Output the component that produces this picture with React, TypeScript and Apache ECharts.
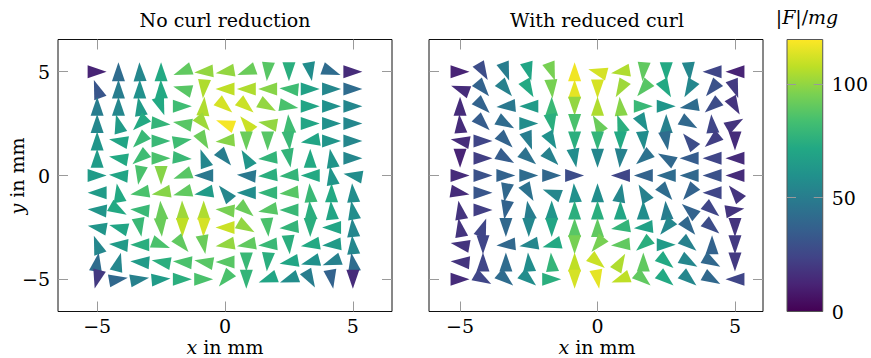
import React, { useEffect, useRef } from "react";
import * as echarts from "echarts";

// 13 x 13 sample grid (the centre point carries no arrow)
const gridX = [-5, -4.1667, -3.3333, -2.5, -1.6667, -0.8333, 0, 0.8333, 1.6667, 2.5, 3.3333, 4.1667, 5];
const gridY = [5, 4.1667, 3.3333, 2.5, 1.6667, 0.8333, 0, -0.8333, -1.6667, -2.5, -3.3333, -4.1667, -5];
const tickValues = [-5, 0, 5];
const colorbarLabels = [0, 50, 100];
const colorbarTicks = [50, 100];
const colorMax = 119.5;

// arrow direction in degrees (counter-clockwise from +x); rows run from y=5 down to y=-5
const leftAngle = [
  [0, 90, 92, 90, 200, 185, 190, 200, 265, 270, 280, 340, 0],
  [110, 90, 90, 92, 165, 265, 180, 180, 180, 175, 0, 0, 0],
  [90, 90, 100, 290, 0, 85, 320, 320, 330, 350, 0, 0, 0],
  [90, 105, 225, 355, 170, 310, 160, 130, 170, 95, 0, 0, 0],
  [90, 170, 225, 0, 10, 300, 185, 270, 270, 275, 190, 0, 0],
  [90, 170, 220, 0, 355, 110, 310, 120, 185, 280, 90, 100, 0],
  [0, 175, 260, 270, 200, 180, null, 175, 185, 185, 180, 100, 170],
  [180, 100, 190, 190, 195, 190, 130, 180, 180, 185, 95, 90, 95],
  [175, 330, 175, 95, 92, 90, 175, 320, 190, 180, 95, 95, 100],
  [170, 165, 280, 275, 270, 268, 180, 330, 275, 185, 270, 180, 95],
  [110, 175, 180, 340, 310, 280, 190, 190, 185, 275, 190, 185, 95],
  [80, 75, 175, 170, 175, 170, 180, 270, 265, 190, 195, 200, 100],
  [255, 10, 10, 5, 0, 0, 230, 270, 200, 200, 300, 280, 270],
];
const leftMag = [
  [12, 42, 55, 72, 90, 100, 100, 92, 88, 75, 58, 42, 15],
  [32, 50, 60, 72, 88, 105, 108, 105, 98, 82, 68, 55, 42],
  [50, 55, 65, 72, 82, 105, 112, 110, 100, 85, 70, 60, 55],
  [55, 65, 72, 78, 88, 102, 118, 110, 100, 82, 70, 60, 55],
  [62, 70, 80, 80, 82, 92, 98, 92, 88, 80, 70, 62, 55],
  [65, 72, 82, 85, 80, 55, 50, 62, 78, 78, 72, 62, 55],
  [65, 70, 85, 98, 88, 48, 0, 48, 75, 78, 72, 62, 58],
  [65, 72, 85, 98, 90, 65, 55, 58, 78, 88, 80, 72, 58],
  [62, 72, 80, 92, 102, 105, 95, 92, 88, 80, 75, 70, 58],
  [62, 70, 80, 92, 108, 112, 110, 100, 85, 78, 75, 70, 55],
  [55, 65, 75, 85, 90, 92, 100, 90, 80, 75, 72, 65, 55],
  [42, 55, 65, 75, 85, 88, 88, 80, 75, 70, 60, 52, 42],
  [20, 40, 52, 65, 75, 85, 85, 78, 70, 58, 50, 38, 15],
];
const rightAngle = [
  [0, 300, 290, 285, 290, 90, 165, 190, 265, 270, 275, 180, 180],
  [160, 310, 310, 300, 275, 90, 270, 240, 230, 300, 240, 230, 290],
  [90, 315, 185, 180, 90, 270, 90, 95, 0, 0, 190, 220, 300],
  [95, 315, 330, 0, 280, 270, 120, 110, 300, 90, 330, 95, 30],
  [170, 0, 315, 290, 300, 270, 270, 270, 275, 280, 130, 220, 270],
  [270, 0, 330, 320, 315, 280, 270, 265, 220, 150, 180, 180, 180],
  [0, 0, 0, 0, 0, 0, null, 180, 180, 180, 180, 180, 180],
  [350, 0, 260, 300, 160, 95, 90, 80, 120, 310, 230, 180, 130],
  [100, 0, 260, 100, 90, 90, 90, 90, 90, 95, 140, 320, 10],
  [100, 70, 270, 270, 270, 90, 90, 190, 185, 230, 310, 320, 270],
  [170, 270, 185, 190, 195, 270, 230, 185, 220, 0, 320, 90, 270],
  [175, 90, 90, 95, 95, 90, 320, 60, 90, 320, 330, 330, 270],
  [0, 330, 320, 320, 0, 270, 280, 200, 320, 320, 320, 330, 180],
];
const rightMag = [
  [12, 28, 50, 70, 95, 117, 112, 105, 90, 72, 55, 25, 12],
  [15, 38, 52, 72, 95, 115, 112, 102, 88, 72, 55, 30, 20],
  [15, 38, 48, 65, 80, 100, 105, 98, 80, 62, 42, 28, 18],
  [15, 35, 42, 58, 75, 85, 92, 75, 60, 52, 40, 25, 18],
  [15, 25, 38, 50, 60, 75, 78, 72, 58, 42, 28, 22, 15],
  [12, 22, 35, 45, 52, 58, 55, 52, 45, 40, 35, 25, 15],
  [15, 30, 38, 42, 40, 28, 0, 25, 38, 42, 40, 30, 15],
  [15, 32, 40, 45, 55, 60, 58, 55, 52, 42, 38, 25, 18],
  [18, 22, 38, 50, 62, 75, 75, 70, 58, 50, 38, 25, 18],
  [18, 25, 40, 55, 70, 88, 90, 78, 68, 55, 40, 28, 18],
  [18, 25, 40, 55, 72, 95, 95, 90, 75, 65, 52, 38, 20],
  [18, 25, 42, 58, 78, 108, 110, 105, 90, 72, 55, 40, 20],
  [15, 25, 42, 58, 75, 112, 115, 108, 90, 72, 55, 40, 25],
];

const viridis = [
  "#440154", "#482475", "#414487", "#355f8d", "#2a788e", "#21918c",
  "#22a884", "#44bf70", "#7ad151", "#bddf26", "#fde725",
];

const FONT = "DejaVu Serif";
const FS = 19;

function buildData(angle: (number | null)[][], mag: number[][]) {
  const out: number[][] = [];
  for (let r = 0; r < gridY.length; r++) {
    for (let c = 0; c < gridX.length; c++) {
      const a = angle[r][c];
      if (a === null) continue;
      out.push([gridX[c], gridY[r], mag[r][c], a]);
    }
  }
  return out;
}

const fmt = (v: number) => (v < 0 ? "\u2212" + Math.abs(v) : String(v));

export default function App() {
  const ref = useRef<HTMLDivElement>(null);
  useEffect(() => {
    if (!ref.current) return;
    const chart = echarts.init(ref.current, undefined, { renderer: "svg" });
    const tickStyle = { color: "#9a9a9a", width: 1 };
    const mkX = (grid: number, pos: "top" | "bottom", min: number, max: number, labels: boolean) => ({
      type: "value",
      gridIndex: grid,
      position: pos,
      min,
      max,
      axisLine: { show: false, onZero: false },
      splitLine: { show: false },
      axisTick: { show: true, inside: true, length: 10, lineStyle: tickStyle, customValues: tickValues },
      axisLabel: {
        show: labels,
        customValues: tickValues,
        formatter: fmt,
        fontFamily: FONT,
        fontSize: FS,
        color: "#000",
        margin: 5,
      },
    });
    const mkY = (grid: number, pos: "left" | "right", labels: boolean) => ({
      type: "value",
      gridIndex: grid,
      position: pos,
      min: -6.55,
      max: 6.55,
      axisLine: { show: false, onZero: false },
      splitLine: { show: false },
      axisTick: { show: true, inside: true, length: 10, lineStyle: tickStyle, customValues: tickValues },
      axisLabel: {
        show: labels,
        customValues: tickValues,
        formatter: fmt,
        fontFamily: FONT,
        fontSize: FS,
        color: "#000",
        margin: 8,
      },
    });
    const gradStops = viridis.map((c, i) => ({ offset: i / (viridis.length - 1), color: c }));
    const symbolRotate = (v: number[]) => v[3] - 90;
    const richItalic = { i: { fontFamily: FONT, fontSize: FS, fontStyle: "italic", fill: "#000" } };
    const option: any = {
      animation: false,
      grid: [
        { left: 58, top: 39.5, width: 334, height: 272, show: true, borderColor: "#111", borderWidth: 1, backgroundColor: "transparent" },
        { left: 429, top: 39.5, width: 334, height: 272, show: true, borderColor: "#111", borderWidth: 1, backgroundColor: "transparent" },
        {
          left: 787,
          top: 39.5,
          width: 38,
          height: 272,
          show: true,
          borderColor: "#555",
          borderWidth: 1,
          backgroundColor: new echarts.graphic.LinearGradient(0, 1, 0, 0, gradStops),
        },
      ],
      xAxis: [
        mkX(0, "bottom", -6.53, 6.53, true),
        mkX(0, "top", -6.53, 6.53, false),
        mkX(1, "bottom", -6.13, 6.02, true),
        mkX(1, "top", -6.13, 6.02, false),
        { type: "value", gridIndex: 2, show: false, min: 0, max: 1 },
      ],
      yAxis: [
        mkY(0, "left", true),
        mkY(0, "right", false),
        mkY(1, "left", false),
        mkY(1, "right", false),
        {
          type: "value",
          gridIndex: 2,
          position: "left",
          min: 0,
          max: colorMax,
          axisLine: { show: false, onZero: false },
          splitLine: { show: false },
          axisLabel: { show: false },
          axisTick: { show: true, inside: true, length: 9, lineStyle: tickStyle, customValues: colorbarTicks },
        },
        {
          type: "value",
          gridIndex: 2,
          position: "right",
          min: 0,
          max: colorMax,
          axisLine: { show: false, onZero: false },
          splitLine: { show: false },
          axisTick: { show: true, inside: true, length: 9, lineStyle: tickStyle, customValues: colorbarTicks },
          axisLabel: {
            show: true,
            customValues: colorbarLabels,
            fontFamily: FONT,
            fontSize: FS,
            color: "#000",
            margin: 9,
          },
        },
      ],
      visualMap: [
        {
          type: "continuous",
          show: false,
          min: 0,
          max: colorMax,
          dimension: 2,
          seriesIndex: [0, 1],
          inRange: { color: viridis },
        },
      ],
      series: [
        {
          type: "scatter",
          xAxisIndex: 0,
          yAxisIndex: 0,
          symbol: "triangle",
          symbolSize: [13, 19],
          symbolRotate,
          silent: true,
          itemStyle: { opacity: 1 },
          data: buildData(leftAngle, leftMag),
        },
        {
          type: "scatter",
          xAxisIndex: 2,
          yAxisIndex: 2,
          symbol: "triangle",
          symbolSize: [13, 19],
          symbolRotate,
          silent: true,
          itemStyle: { opacity: 1 },
          data: buildData(rightAngle, rightMag),
        },
      ],
      graphic: [
        {
          type: "text",
          x: 225,
          y: 20,
          style: { text: "No curl reduction", font: `${FS}px '${FONT}'`, fill: "#000", align: "center", verticalAlign: "middle" },
        },
        {
          type: "text",
          x: 597,
          y: 20,
          style: { text: "With reduced curl", font: `${FS}px '${FONT}'`, fill: "#000", align: "center", verticalAlign: "middle" },
        },
        {
          type: "text",
          x: 225,
          y: 347,
          style: { text: "{i|x} in mm", align: "center", verticalAlign: "middle", rich: richItalic, font: `${FS}px '${FONT}'`, fill: "#000" },
        },
        {
          type: "text",
          x: 597,
          y: 347,
          style: { text: "{i|x} in mm", align: "center", verticalAlign: "middle", rich: richItalic, font: `${FS}px '${FONT}'`, fill: "#000" },
        },
        {
          type: "text",
          x: 17,
          y: 176,
          rotation: Math.PI / 2,
          style: { text: "{i|y} in mm", align: "center", verticalAlign: "middle", rich: richItalic, font: `${FS}px '${FONT}'`, fill: "#000" },
        },
        {
          type: "text",
          x: 807,
          y: 17,
          style: { text: "|{i|F}|/{i|mg}", align: "center", verticalAlign: "middle", rich: richItalic, font: `${FS}px '${FONT}'`, fill: "#000" },
        },
      ],
    };
    chart.setOption(option);
    return () => chart.dispose();
  }, []);
  return (
    <div
      ref={ref}
      style={{ position: "fixed", left: 0, top: 0, width: 871, height: 358, background: "#fff" }}
    />
  );
}
